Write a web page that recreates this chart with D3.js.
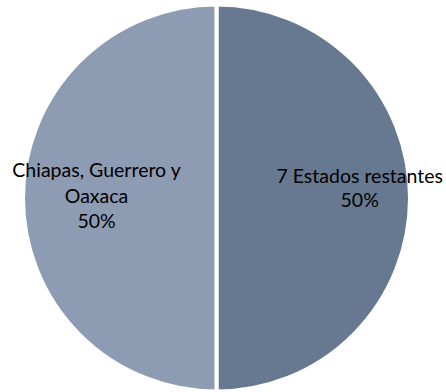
<!DOCTYPE html>
<html>
<head>
<meta charset="utf-8">
<script src="https://cdn.jsdelivr.net/npm/d3@7"></script>
<style>
  html, body { margin: 0; padding: 0; background: #fff; }
  svg { display: block; }
  text { font-family: Lato, "Open Sans", sans-serif; fill: #000; }
</style>
</head>
<body>
<svg id="chart" width="446" height="392"></svg>
<script>
// Share of the total: Chiapas, Guerrero y Oaxaca vs. the remaining seven states
const categories = ["7 Estados restantes", "Chiapas, Guerrero y Oaxaca"];
const values = [50, 50];
const labelLines = [["7 Estados restantes"], ["Chiapas, Guerrero y", "Oaxaca"]];
const colors = ["#677991", "#8e9cb3"];

const svg = d3.select("#chart");
const cx = 216.5, cy = 198, r = 193.5;

const g = svg.append("g").attr("transform", `translate(${cx},${cy})`);

const pie = d3.pie().sort(null).value(d => d.value).startAngle(0).endAngle(2 * Math.PI);
const data = pie(categories.map((c, i) => ({ name: c, value: values[i], lines: labelLines[i], color: colors[i] })));

const arc = d3.arc().innerRadius(0).outerRadius(r);

g.selectAll("path.slice")
  .data(data)
  .join("path")
  .attr("class", "slice")
  .attr("d", arc)
  .attr("fill", d => d.data.color)
  .attr("stroke", "#fff")
  .attr("stroke-width", 4)
  .attr("stroke-linejoin", "miter");

// Label anchor: radius fraction along the slice's mid angle, plus a vertical nudge
const labelPlacement = [{ k: 0.74, dy: -15, lh: 24 }, { k: 0.62, dy: -21, lh: 25.5 }];
const fmt = d3.format(".0%");
const total = d3.sum(values);

data.forEach((d, i) => {
  const p = labelPlacement[i];
  const la = d3.arc().innerRadius(r * p.k).outerRadius(r * p.k);
  const [x, y] = la.centroid(d);
  const lines = d.data.lines.concat([fmt(d.data.value / total)]);
  const t = g.append("text")
    .attr("text-anchor", "middle")
    .attr("font-size", 19.5)
    .attr("transform", `translate(${x},${y + p.dy})`);
  lines.forEach((s, j) => {
    t.append("tspan").attr("x", 0).attr("y", j * p.lh).text(s);
  });
});
</script>
</body>
</html>
